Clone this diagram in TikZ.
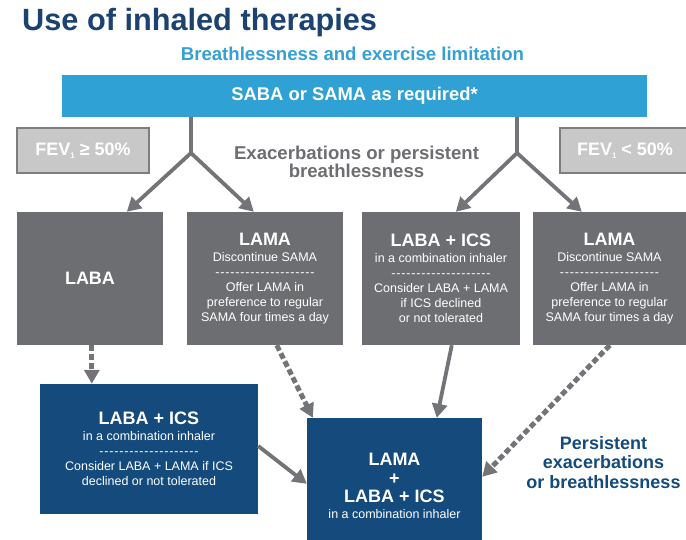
\documentclass[tikz,border=0pt]{standalone}
\usepackage{fontspec}
\setmainfont{Liberation Sans}
\usetikzlibrary{arrows.meta,calc}
\definecolor{titleblue}{RGB}{27,66,112}
\definecolor{lightblue}{RGB}{52,160,213}
\definecolor{barblue}{RGB}{47,161,213}
\definecolor{boxgray}{RGB}{109,110,113}
\definecolor{arrgray}{RGB}{115,116,119}
\definecolor{fevfill}{RGB}{200,200,200}
\definecolor{fevline}{RGB}{125,125,125}
\definecolor{darkblue}{RGB}{20,74,124}
\newcommand\fsz[2]{\fontsize{#1}{#2}\selectfont}
\newcommand\hd[1]{{\bfseries\fsz{18}{15}#1}}
\newcommand\dashrow{\makebox[100pt]{\xleaders\hbox to 5pt{\hss-\hss}\hfill}}
\newcommand\subone{\raisebox{-3pt}{\fsz{8}{8}1}}
\begin{document}
\begin{tikzpicture}[x=1pt,y=-1pt,
  bar/.style={fill=barblue,text=white,inner sep=0pt,font=\bfseries\fsz{18.4}{22}},
  fevbox/.style={fill=fevfill,draw=fevline,line width=2.5pt,text=white,inner sep=0pt,
    minimum height=45pt,font=\bfseries\fsz{18}{20}},
  graybox/.style={fill=boxgray,text=white,inner sep=0pt,align=center,
    minimum height=133pt,font=\fsz{12.5}{15}},
  bluebox/.style={fill=darkblue,text=white,inner sep=0pt,align=center,font=\fsz{12.5}{15}},
  conn/.style={draw=arrgray,line width=3.8pt},
  arr/.style={conn,-{Triangle[length=14pt,width=15pt]}},
  darr/.style={arr,line width=5pt,dash pattern=on 6pt off 3pt}]
\useasboundingbox (0,0) rectangle (686,540);
\clip (0,0) rectangle (686,540);

% titles
\node[anchor=base west,inner sep=0pt,text=titleblue,font=\bfseries\fsz{30.7}{32}] (title) at (22,31) {Use of inhaled therapies};
\node[anchor=base,inner sep=0pt,text=lightblue,font=\bfseries\fsz{18.6}{20}] (sub) at (352.5,61) {Breathlessness and exercise limitation};

% top bar
\node[bar,minimum width=585pt,minimum height=42pt] (bar) at (354.5,96) {SABA or SAMA as required*};

% FEV boxes
\node[fevbox,minimum width=132pt] (fevL) at (83,150.5) {FEV\subone\ ≥ 50\%};
\node[fevbox,minimum width=130pt] (fevR) at (625,150.5) {FEV\subone\ < 50\%};

% middle label
\node[inner sep=0pt,align=center,text=boxgray,font=\bfseries\fsz{18.6}{18}] (exac) at (356.5,162.2) {Exacerbations or persistent\\breathlessness};

% gray boxes
\node[graybox,minimum width=146pt] (laba) at (90,278.5) {\hd{LABA}};
\node[graybox,minimum width=156pt] (lama1) at (265,278.5) {\hd{LAMA}\\[1pt]Discontinue SAMA\\\dashrow\\Offer LAMA in\\preference to regular\\SAMA four times a day};
\node[graybox,minimum width=158pt] (labaics) at (441,278.5) {\hd{LABA + ICS}\\[1pt]in a combination inhaler\\\dashrow\\Consider LABA + LAMA\\if ICS declined\\or not tolerated};
\node[graybox,minimum width=153pt] (lama2) at (609.5,278.5) {\hd{LAMA}\\[1pt]Discontinue SAMA\\\dashrow\\Offer LAMA in\\preference to regular\\SAMA four times a day};

% blue boxes
\node[bluebox,minimum width=218pt,minimum height=130pt] (blueL) at (149,449) {\hd{LABA + ICS}\\[1pt]in a combination inhaler\\\dashrow\\Consider LABA + LAMA if ICS\\declined or not tolerated};
\node[bluebox,minimum width=175pt,minimum height=136pt] (main) at (394.5,486) {\hd{LAMA}\\[3.5pt]\hd{+}\\[3.5pt]\hd{LABA + ICS}\\[0.5pt]in a combination inhaler};

% persistent label
\node[inner sep=0pt,align=center,text=darkblue,font=\bfseries\fsz{18}{19.5}] (pers) at (603.5,462.5) {Persistent\\exacerbations\\or breathlessness};

% connectors
\coordinate (sL) at (191,153);
\coordinate (sR) at (517,153);
\draw[conn] (bar.south -| sL) -- (sL);
\draw[conn] (bar.south -| sR) -- (sR);
\draw[arr] (sL) -- ($(laba.north west)+(110,0)$);
\draw[arr] (sL) -- ($(lama1.north west)+(67,0)$);
\draw[arr] (sR) -- ($(labaics.north west)+(94,0)$);
\draw[arr] (sR) -- ($(lama2.north west)+(49,0)$);

\draw[darr] ($(laba.south west)+(75,0)$) -- ($(blueL.north west)+(52,0)$);
\draw[darr] ($(lama1.south west)+(90,0)$) -- ($(main.north west)+(6,0)$);
\draw[arr] ($(labaics.south west)+(90,0)$) -- ($(main.north west)+(130,0)$);
\draw[darr] ($(lama2.south west)+(77,0)$) -- ($(main.north east)+(0,59)$);
\draw[arr] ($(blueL.east)+(0,-3)$) -- ($(main.north west)+(0,66)$);
\end{tikzpicture}
\end{document}
